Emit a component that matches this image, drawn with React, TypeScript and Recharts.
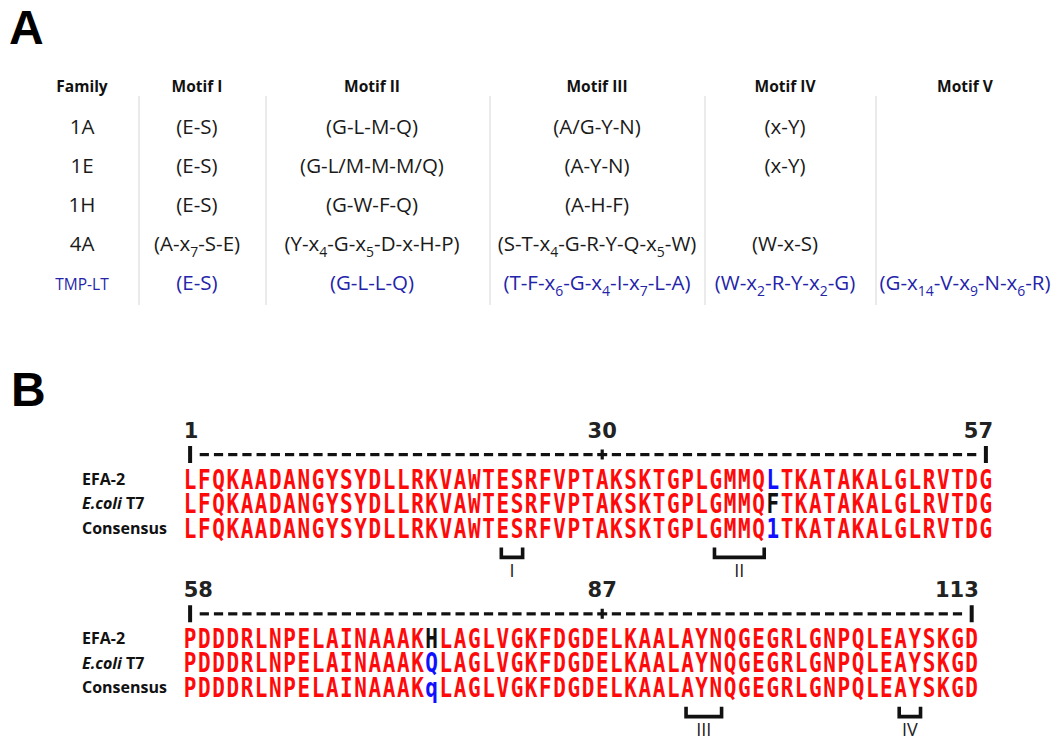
import React from "react";
import { ScatterChart, Scatter, XAxis, YAxis, ReferenceLine, ReferenceArea } from "recharts";

// ---- Panel A: motif table ----
const tableHeaders = ["Family", "Motif I", "Motif II", "Motif III", "Motif IV", "Motif V"];
const families = ["1A", "1E", "1H", "4A", "TMP-LT"];
const motifI = ["(E-S)", "(E-S)", "(E-S)", "(A-x_7-S-E)", "(E-S)"];
const motifII = ["(G-L-M-Q)", "(G-L/M-M-M/Q)", "(G-W-F-Q)", "(Y-x_4-G-x_5-D-x-H-P)", "(G-L-L-Q)"];
const motifIII = ["(A/G-Y-N)", "(A-Y-N)", "(A-H-F)", "(S-T-x_4-G-R-Y-Q-x_5-W)", "(T-F-x_6-G-x_4-I-x_7-L-A)"];
const motifIV = ["(x-Y)", "(x-Y)", "", "(W-x-S)", "(W-x_2-R-Y-x_2-G)"];
const motifV = ["", "", "", "", "(G-x_14-V-x_9-N-x_6-R)"];
const highlightFamily = "TMP-LT";

// ---- Panel B: alignment ----
const trackNames = ["EFA-2", "E.coli T7", "Consensus"];
const efa2Seq =
  "LFQKAADANGYSYDLLRKVAWTESRFVPTAKSKTGPLGMMQLTKATAKALGLRVTDG" +
  "PDDDRLNPELAINAAAKHLAGLVGKFDGDELKAALAYNQGEGRLGNPQLEAYSKGD";
const ecoliSeq =
  "LFQKAADANGYSYDLLRKVAWTESRFVPTAKSKTGPLGMMQFTKATAKALGLRVTDG" +
  "PDDDRLNPELAINAAAKQLAGLVGKFDGDELKAALAYNQGEGRLGNPQLEAYSKGD";
const consensusSeq =
  "LFQKAADANGYSYDLLRKVAWTESRFVPTAKSKTGPLGMMQ1TKATAKALGLRVTDG" +
  "PDDDRLNPELAINAAAKqLAGLVGKFDGDELKAALAYNQGEGRLGNPQLEAYSKGD";
const blockStarts = [1, 58];
const blockEnds = [57, 113];
const rulerLabels = [
  [1, 30, 57],
  [58, 87, 113],
];
const blueResidues = [
  { track: 0, pos: 42 },
  { track: 1, pos: 75 },
];
const motifBrackets = [
  { label: "I", from: 23, to: 24 },
  { label: "II", from: 38, to: 41 },
  { label: "III", from: 93, to: 95 },
  { label: "IV", from: 108, to: 109 },
];

// ---- layout ----
const W = 1058;
const colCenters = [82, 197, 372, 597, 785, 965];
const colSeparators = [139, 266, 490, 705, 876];
const BLOCK = 6.5;
const RED = "#ff0a0a";
const BLUE = "#1010ff";
const TABLE_BLUE = "#2424aa";
const FONT = "'Open Sans', 'DejaVu Sans', sans-serif";

function withSubscripts(s: string, size: number) {
  const parts = s.split(/(_\d+)/).filter((p) => p !== "");
  return parts.map((p, i) =>
    p.startsWith("_") ? (
      <tspan key={i} fontSize={size * 0.68} dy={size * 0.28}>
        {p.slice(1)}
      </tspan>
    ) : (
      <tspan key={i} dy={i > 0 ? -size * 0.28 : 0}>
        {p}
      </tspan>
    )
  );
}

const tableCells: any[] = [];
tableHeaders.forEach((h, c) => tableCells.push({ x: colCenters[c], y: -1.23, text: h, kind: "head" }));
[families, motifI, motifII, motifIII, motifIV, motifV].forEach((col, c) =>
  col.forEach((t, r) => {
    if (!t) return;
    const blue = families[r] === highlightFamily;
    tableCells.push({
      x: colCenters[c],
      y: r,
      text: t,
      kind: c === 0 ? (blue ? "famBlue" : "fam") : "motif",
      color: blue ? TABLE_BLUE : "#1a1a1a",
    });
  })
);

const TableText = (props: any) => {
  const { cx, cy, payload } = props;
  if (payload.kind === "head")
    return (
      <text x={cx} y={cy} dy="0.36em" textAnchor="middle" fontFamily={FONT} fontWeight={700} fontSize={15.5} fill="#111">
        {payload.text}
      </text>
    );
  const size = payload.kind === "famBlue" ? 15.5 : 20.5;
  return (
    <text x={cx} y={cy} dy="0.36em" textAnchor="middle" fontFamily={FONT} fontSize={size} fill={payload.color}>
      {withSubscripts(payload.text, size)}
    </text>
  );
};

// alignment data
const seqs = [efa2Seq, ecoliSeq, consensusSeq];
const residues: any[] = [];
const rulerMarks: any[] = [];
const rulerNumbers: any[] = [];
blockStarts.forEach((start, b) => {
  const len = blockEnds[b] - start + 1;
  seqs.forEach((seq, t) => {
    for (let col = 1; col <= len; col++) {
      const pos = start + col - 1;
      const ch = seq[pos - 1];
      const same = efa2Seq[pos - 1] === ecoliSeq[pos - 1];
      let color = RED;
      if (!same) {
        if (t === 2 || blueResidues.some((r) => r.track === t && r.pos === pos)) color = BLUE;
        else color = "#111";
      }
      residues.push({ x: col, y: b * BLOCK + 2 + t, ch, color });
    }
  });
  const labels = rulerLabels[b];
  for (let col = 1; col <= len; col++) {
    const pos = start + col - 1;
    let ch = "-";
    if (col === 1 || col === len) ch = "|";
    else if (labels.includes(pos)) ch = "+";
    rulerMarks.push({ x: col, y: b * BLOCK + 1, ch });
  }
  labels.forEach((p, i) =>
    rulerNumbers.push({
      x: p - start + 1 + (i === 0 ? -0.45 : i === labels.length - 1 ? 0.5 : 0),
      y: b * BLOCK,
      text: String(p),
      anchor: i === 0 ? "start" : i === labels.length - 1 ? "end" : "middle",
    })
  );
});

const toBlock = (pos: number) => (pos <= blockEnds[0] ? 0 : 1);
const bracketLabels = motifBrackets.map((m) => {
  const b = toBlock(m.from);
  const s = blockStarts[b];
  return { x: (m.from - s + 1 + m.to - s + 1) / 2 + 0.15, y: b * BLOCK + 5.72, text: m.label };
});

const Residue = (props: any) => {
  const { cx, cy, payload } = props;
  return (
    <text
      transform={`translate(${cx},${cy}) scale(0.84,1.05)`}
      dy="0.37em"
      textAnchor="middle"
      fontFamily="'DejaVu Sans Mono', monospace"
      fontWeight={700}
      fontSize={25}
      fill={payload.color ?? "#111"}
    >
      {payload.ch}
    </text>
  );
};

const RulerMark = (props: any) => {
  const { cx, cy, payload } = props;
  const c = "#111";
  if (payload.ch === "|") return <rect x={cx - 2} y={cy - 8.5} width={4} height={17} fill={c} />;
  if (payload.ch === "+")
    return (
      <g fill={c}>
        <rect x={cx - 5} y={cy - 1.5} width={10} height={3.2} />
        <rect x={cx - 1.6} y={cy - 5} width={3.2} height={10} />
      </g>
    );
  return <rect x={cx - 4.6} y={cy - 1.5} width={9.2} height={3.2} fill={c} />;
};

const RulerNumber = (props: any) => {
  const { cx, cy, payload } = props;
  return (
    <text x={cx} y={cy} dy="0.36em" textAnchor={payload.anchor} fontFamily="'DejaVu Sans', sans-serif" fontWeight={700} fontSize={21} fill="#222">
      {payload.text}
    </text>
  );
};

const BracketLabel = (props: any) => {
  const { cx, cy, payload } = props;
  return (
    <text x={cx} y={cy} dy="0.36em" textAnchor="middle" fontFamily={FONT} fontSize={18} fill="#222">
      {payload.text}
    </text>
  );
};

const Bracket = (props: any) => {
  const { x, y, width, height } = props;
  return (
    <path
      d={`M${x},${y} L${x},${y + height} L${x + width},${y + height} L${x + width},${y}`}
      fill="none"
      stroke="#111"
      strokeWidth={3.6}
    />
  );
};

const TrackTick = (props: any) => {
  const { y, payload } = props;
  const name = trackNames[Math.round(payload.value - (payload.value > BLOCK ? BLOCK : 0)) - 2];
  if (name === "E.coli T7")
    return (
      <text x={82} y={y} dy="0.36em" fontFamily={FONT} fontWeight={700} fontSize={16} fill="#111">
        <tspan fontStyle="italic">E.coli</tspan>
        <tspan> T7</tspan>
      </text>
    );
  return (
    <text x={82} y={y} dy="0.36em" fontFamily={FONT} fontWeight={700} fontSize={16} fill="#111">
      {name}
    </text>
  );
};

export default function App() {
  const trackTicks = [2, 3, 4, BLOCK + 2, BLOCK + 3, BLOCK + 4];
  return (
    <div style={{ position: "relative", width: W, height: 740, background: "#fff", overflow: "hidden" }}>
      <style>{"body{margin:0}"}</style>
      <div style={{ position: "absolute", left: 9, top: 4, font: "700 48px/48px 'Liberation Sans', Arial, sans-serif", color: "#000" }}>A</div>
      <div style={{ position: "absolute", left: 11, top: 366, font: "700 48px/48px 'Liberation Sans', Arial, sans-serif", color: "#000" }}>B</div>

      <div style={{ position: "absolute", left: 0, top: 0 }}>
        <ScatterChart width={W} height={330} margin={{ top: 0, right: 0, bottom: 0, left: 0 }}>
          <XAxis type="number" dataKey="x" domain={[0, W]} hide />
          <YAxis type="number" dataKey="y" domain={[-3.436, 5.026]} reversed hide />
          {colSeparators.map((sx) => (
            <ReferenceLine
              key={sx}
              segment={[
                { x: sx, y: -0.974 },
                { x: sx, y: 4.385 },
              ]}
              stroke="#d6d6d6"
              strokeWidth={1}
            />
          ))}
          <Scatter data={tableCells} shape={<TableText />} isAnimationActive={false} />
        </ScatterChart>
      </div>

      <div style={{ position: "absolute", left: 0, top: 360 }}>
        <ScatterChart width={W} height={400} margin={{ top: 45.5, right: 65, bottom: 4.15, left: 0 }}>
          <XAxis type="number" dataKey="x" domain={[0.5, 57.5]} hide />
          <YAxis
            type="number"
            dataKey="y"
            domain={[-1, 13.3]}
            reversed
            width={183}
            ticks={trackTicks}
            interval={0}
            axisLine={false}
            tickLine={false}
            tick={<TrackTick />}
          />
          {motifBrackets.map((m) => {
            const b = toBlock(m.from);
            const s = blockStarts[b];
            return (
              <ReferenceArea
                key={m.label}
                x1={m.from - s + 1 - 0.1}
                x2={m.to - s + 1 + 0.4}
                y1={b * BLOCK + 4.8}
                y2={b * BLOCK + 5.2}
                shape={<Bracket />}
                ifOverflow="visible"
              />
            );
          })}
          <Scatter data={rulerNumbers} shape={<RulerNumber />} isAnimationActive={false} />
          <Scatter data={rulerMarks} shape={<RulerMark />} isAnimationActive={false} />
          <Scatter data={residues} shape={<Residue />} isAnimationActive={false} />
          <Scatter data={bracketLabels} shape={<BracketLabel />} isAnimationActive={false} />
        </ScatterChart>
      </div>
    </div>
  );
}
